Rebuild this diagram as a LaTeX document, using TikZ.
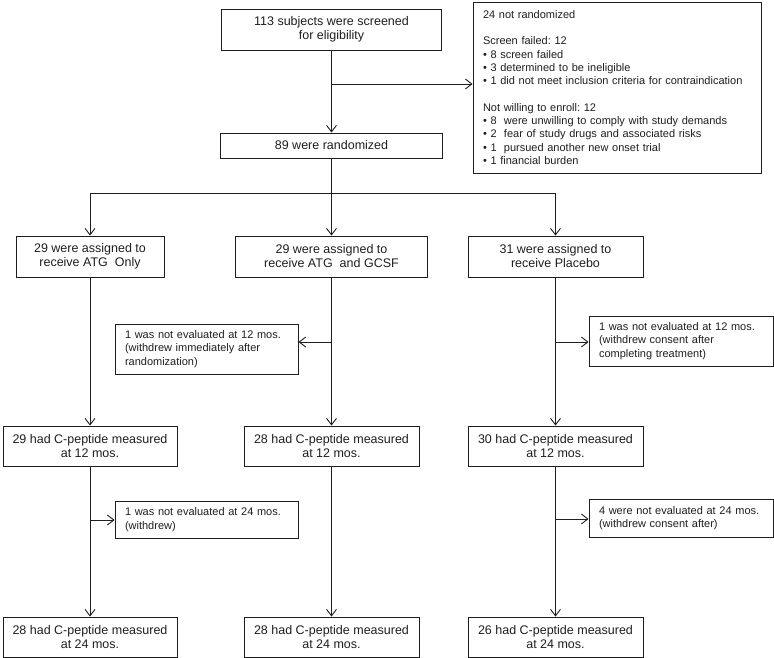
\documentclass[tikz,border=0pt]{standalone}
\usepackage{fontspec}
\setmainfont{Liberation Sans}
\usetikzlibrary{arrows.meta}
\definecolor{ink}{HTML}{1E1E1E}
\frenchspacing
\begin{document}
\begin{tikzpicture}[x=1pt,y=-1pt,
  line width=0.9pt, draw=ink, text=ink,
  arr/.style={-{Straight Barb[length=6.5pt,width=10pt]}},
  mainbox/.style={draw, rectangle, align=center, inner sep=0pt,
    font=\fontsize{12.5}{14}\selectfont},
  sidebox/.style={draw, rectangle, align=left, inner xsep=10pt, inner ysep=0pt,
    font=\fontsize{11}{13.3}\selectfont}
]
\useasboundingbox (0,0) rectangle (774,658);

% top
\node[mainbox, minimum width=220pt, minimum height=41pt] (screen) at (331.5,29.5)
  {113 subjects were screened\\for eligibility};
\node[mainbox, minimum width=222pt, minimum height=25pt] (rand) at (331.5,145.5)
  {89 were randomized};
\node[sidebox, text width=268pt, minimum height=171pt] (notrand) at (617,87.5)
  {24 not randomized\\[13.3pt]
   Screen failed: 12\\
   • 8 screen failed\\
   • 3 determined to be ineligible\\
   • 1 did not meet inclusion criteria for contraindication\\[13.3pt]
   Not willing to enroll: 12\\
   • 8 \ were unwilling to comply with study demands\\
   • 2 \ fear of study drugs and associated risks\\
   • 1 \ pursued another new onset trial\\
   • 1 financial burden};

% assigned
\node[mainbox, minimum width=148pt, minimum height=41pt] (asgA) at (90,256.5)
  {29 were assigned to\\receive ATG \ Only};
\node[mainbox, minimum width=192pt, minimum height=41pt] (asgB) at (331.5,256.5)
  {29 were assigned to\\receive ATG \ and GCSF};
\node[mainbox, minimum width=175pt, minimum height=41pt] (asgC) at (555.5,256.5)
  {31 were assigned to\\receive Placebo};

% 12 months
\node[mainbox, minimum width=174pt, minimum height=40pt] (a12) at (90,446)
  {29 had C-peptide measured\\at 12 mos.};
\node[mainbox, minimum width=175pt, minimum height=40pt] (b12) at (331.5,446)
  {28 had C-peptide measured\\at 12 mos.};
\node[mainbox, minimum width=175pt, minimum height=40pt] (c12) at (555.5,446)
  {30 had C-peptide measured\\at 12 mos.};

% 24 months
\node[mainbox, minimum width=174pt, minimum height=40pt] (a24) at (90,637)
  {28 had C-peptide measured\\at 24 mos.};
\node[mainbox, minimum width=175pt, minimum height=40pt] (b24) at (331.5,637)
  {28 had C-peptide measured\\at 24 mos.};
\node[mainbox, minimum width=175pt, minimum height=40pt] (c24) at (555.5,637)
  {26 had C-peptide measured\\at 24 mos.};

% side boxes
\node[sidebox, text width=163pt, minimum height=50pt] (sB12) at (206.5,349)
  {1 was not evaluated at 12 mos.\\(withdrew immediately after\\randomization)};
\node[sidebox, text width=164pt, minimum height=50pt] (sC12) at (681,341)
  {1 was not evaluated at 12 mos.\\(withdrew consent after\\completing treatment)};
\node[sidebox, text width=163pt, minimum height=37pt] (sA24) at (206.5,519.5)
  {1 was not evaluated at 24 mos.\\(withdrew)};
\node[sidebox, text width=164pt, minimum height=38pt] (sC24) at (681,518)
  {4 were not evaluated at 24 mos.\\(withdrew consent after)};

% connectors
\draw[arr] (screen) -- (rand);
\coordinate (brN) at (331.5,84);
\draw[arr] (brN) -- (brN -| notrand.west);
\coordinate (dist) at (331.5,193);
\draw (rand) -- (dist);
\draw[arr] (dist) -| (asgA);
\draw[arr] (dist) -| (asgC);
\draw[arr] (dist) -- (asgB);

\draw[arr] (asgA) -- (a12);
\draw[arr] (asgB) -- (b12);
\draw[arr] (asgC) -- (c12);
\draw[arr] (a12) -- (a24);
\draw[arr] (b12) -- (b24);
\draw[arr] (c12) -- (c24);

\coordinate (jB) at (331.5,342);
\draw[arr] (jB) -- (jB -| sB12.east);
\coordinate (jC) at (555.5,342);
\draw[arr] (jC) -- (jC -| sC12.west);
\coordinate (jA2) at (90,520);
\draw[arr] (jA2) -- (jA2 -| sA24.west);
\coordinate (jC2) at (555.5,519);
\draw[arr] (jC2) -- (jC2 -| sC24.west);
\end{tikzpicture}
\end{document}
